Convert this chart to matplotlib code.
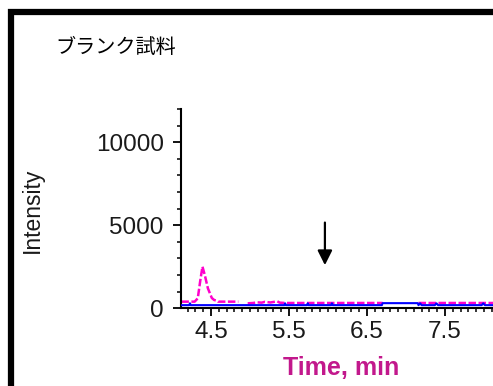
import matplotlib
matplotlib.use("Agg")
import matplotlib.pyplot as plt
from matplotlib.patches import Rectangle
import numpy as np

# data
t_mag = [4.12, 4.14, 4.29, 4.33, 4.36, 4.39, 4.42, 4.46, 4.51, 4.54, 4.58, 4.59, 4.85,
         4.86, 4.97, 5.04, 5.09, 5.15, 5.19, 5.26, 5.35, 5.38, 5.45, 5.80, 6.20, 6.70,
         6.71, 7.15, 7.16, 7.60, 8.12]
i_mag = [400, 400, 400, 600, 1600, 2510, 2000, 1200, 620, 500, 450, 400, 400,
         np.nan, 300, 320, 360, 340, 390, 350, 420, 340, 320, 320, 320, 320,
         np.nan, np.nan, 320, 320, 320]

t_blue = [4.12, 4.22, 4.23, 4.24, 5.44, 5.45, 5.46, 5.73, 5.74, 5.75, 6.04, 6.05, 6.06,
          6.69, 6.70, 7.15, 7.16, 7.18, 7.20, 7.37, 7.39, 7.41, 7.97, 7.99, 8.01, 8.12]
i_blue = [190, 190, 300, 190, 190, 300, 190, 190, 300, 190, 190, 300, 190,
          190, 310, 310, 190, 300, 190, 190, 300, 190, 190, 300, 190, 190]

arrow_x = 5.96
arrow_top, arrow_tip = 5330, 2430

title = "ブランク試料"
xlab = "Time, min"
ylab = "Intensity"

sans = ["Liberation Sans", "DejaVu Sans"]

fig = plt.figure(figsize=(4.93, 3.86), dpi=100)
ax = fig.add_axes([181/493, 1-308.3/386, 312/493, 199.3/386])

ax.plot(t_blue, i_blue, color="#0000ff", lw=1.5, zorder=3)
ax.plot(t_mag, i_mag, color="#ff00cc", lw=1.8, ls=(0, (3, 1)), zorder=2)

ax.annotate("", xy=(arrow_x, arrow_tip), xytext=(arrow_x, arrow_top),
            arrowprops=dict(arrowstyle="-|>", color="black", lw=1.6, mutation_scale=22))

ax.set_xlim(4.115, 8.115)
ax.set_ylim(0, 12000)
ax.set_xticks([4.5, 5.5, 6.5, 7.5])
ax.set_xticks(np.arange(4.2, 8.11, 0.1), minor=True)
ax.set_yticks([0, 5000, 10000])
ax.set_yticks(np.arange(1000, 12001, 1000), minor=True)
for s in ["top", "right"]:
    ax.spines[s].set_visible(False)
for s in ["left", "bottom"]:
    ax.spines[s].set_linewidth(1.5)
ax.tick_params(which="major", length=5.5, width=1.3, direction="out", pad=4)
ax.tick_params(which="minor", length=3, width=1.1, direction="out")
ax.tick_params(axis="y", pad=7)
for lab in ax.get_xticklabels() + ax.get_yticklabels():
    lab.set_fontfamily(sans)
    lab.set_fontsize(17.5)
    lab.set_color("#1a1a1a")

fig.text(32/493, 1-210/386, ylab, rotation=90, ha="center", va="center",
         fontsize=16.5, family=sans, color="#1a1a1a")
fig.text(341/493, 1-368/386, xlab, ha="center", va="center", fontsize=18,
         fontweight="bold", family=sans, color="#c2188c")
fig.text(55/493, 1-47/386, title, ha="left", va="center", fontsize=14.5,
         family=["Noto Sans CJK JP", "DejaVu Sans"])

# heavy frame around the panel (runs off the right and bottom edges)
fig.patches.append(Rectangle((11/493, -0.2), 1.2, 1.2 - 12.5/386,
                             transform=fig.transFigure, fill=False, lw=4.5,
                             edgecolor="black"))

fig.savefig("out.png", dpi=100)
